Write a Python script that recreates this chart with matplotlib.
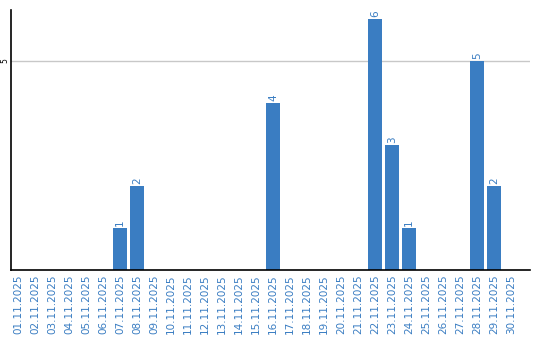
import matplotlib.pyplot as plt

days = ["%02d.11.2025" % d for d in range(1, 31)]
counts = [0, 0, 0, 0, 0, 0, 1, 2, 0, 0, 0, 0, 0, 0, 0, 4, 0, 0, 0, 0, 0, 6, 3, 1, 0, 0, 0, 5, 2, 0]

blue = "#3a7dc2"

fig = plt.figure(figsize=(5.4, 3.4), dpi=100)
ax = fig.add_axes([11 / 540, 70 / 340, 519 / 540, 260 / 340])

x = list(range(len(days)))
ax.bar(x, counts, width=0.82, color=blue, zorder=2)
for xi, c in zip(x, counts):
    if c > 0:
        ax.text(xi, c + 0.05, str(c), rotation=90, ha="center", va="bottom",
                color=blue, fontsize=7.5)

ax.set_xlim(-0.41, 30.1)
ax.set_ylim(0, 6.22)
ax.set_xticks(x)
ax.set_xticklabels(days, rotation=90, color=blue, fontsize=7.5)
ax.set_yticks([5])
ax.set_yticklabels(["5"], rotation=90, fontsize=5.5, va="center")
ax.tick_params(axis="x", length=0, pad=3)
ax.tick_params(axis="y", length=0, pad=1)
ax.yaxis.grid(True, color="#c8c8c8", linewidth=1, zorder=0)
ax.spines["top"].set_visible(False)
ax.spines["right"].set_visible(False)
ax.spines["left"].set_color("black")
ax.spines["bottom"].set_color("black")
ax.spines["left"].set_linewidth(1.2)
ax.spines["bottom"].set_linewidth(1.2)

fig.savefig("out.png", dpi=100)
